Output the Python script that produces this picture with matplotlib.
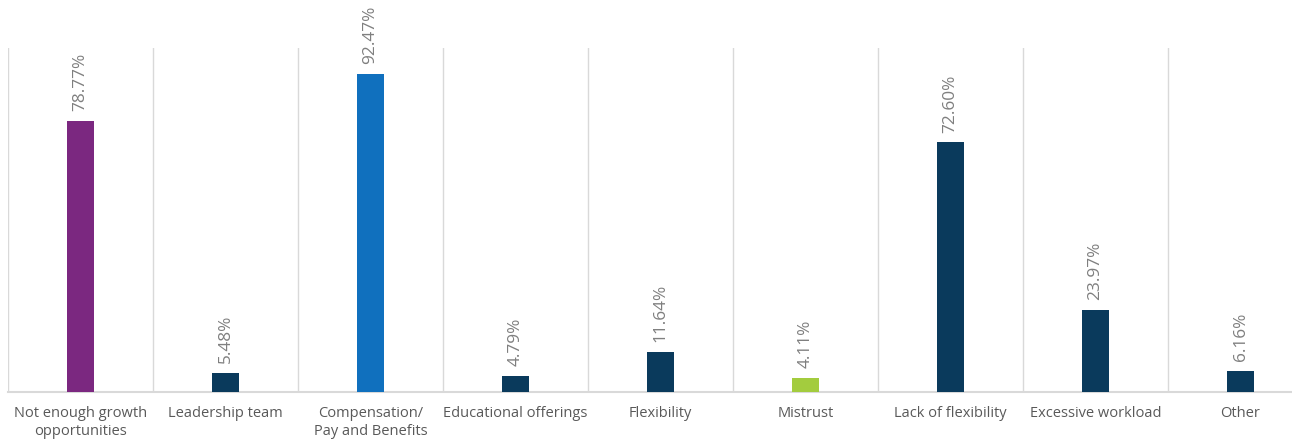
import numpy as np
import matplotlib.pyplot as plt

categories = ["Not enough growth\nopportunities", "Leadership team", "Compensation/\nPay and Benefits",
              "Educational offerings", "Flexibility", "Mistrust", "Lack of flexibility",
              "Excessive workload", "Other"]
values = [78.77, 5.48, 92.47, 4.79, 11.64, 4.11, 72.60, 23.97, 6.16]
colors = ["#7B2880", "#0A3A5C", "#1070BE", "#0A3A5C", "#0A3A5C", "#A3CC3E", "#0A3A5C", "#0A3A5C", "#0A3A5C"]

plt.rcParams['font.family'] = ['Open Sans', 'DejaVu Sans']
text_color = "#595959"
label_color = "#7F7F7F"
grid_color = "#D9D9D9"

W, H = 1292, 442
fig = plt.figure(figsize=(W / 100, H / 100), dpi=100)
ax = fig.add_axes([8 / W, 50 / H, 1305 / W, 344 / H])

x = np.arange(len(categories))
ax.bar(x, values, width=0.19, color=colors, zorder=3)

for xi, v in zip(x, values):
    ax.annotate(f"{v:.2f}%", (xi, v), xytext=(0, 7), textcoords="offset points",
                rotation=90, ha="center", va="bottom", fontsize=12.4, color=label_color)

ax.set_xlim(-0.5, len(categories) - 0.5)
ax.set_ylim(0, 100)
ax.set_xticks(x)
ax.set_xticklabels(categories, fontsize=10.5, color=text_color, linespacing=1.3)
ax.set_xticks(np.arange(-0.5, len(categories)), minor=True)
ax.tick_params(axis="x", which="both", length=0, pad=10)
ax.set_yticks([])
ax.grid(axis="x", which="minor", color=grid_color, linewidth=1, zorder=0)
for s in ["top", "right", "left"]:
    ax.spines[s].set_visible(False)
ax.spines["bottom"].set_color(grid_color)
ax.spines["bottom"].set_linewidth(1.5)

fig.savefig("out.png", dpi=100)
